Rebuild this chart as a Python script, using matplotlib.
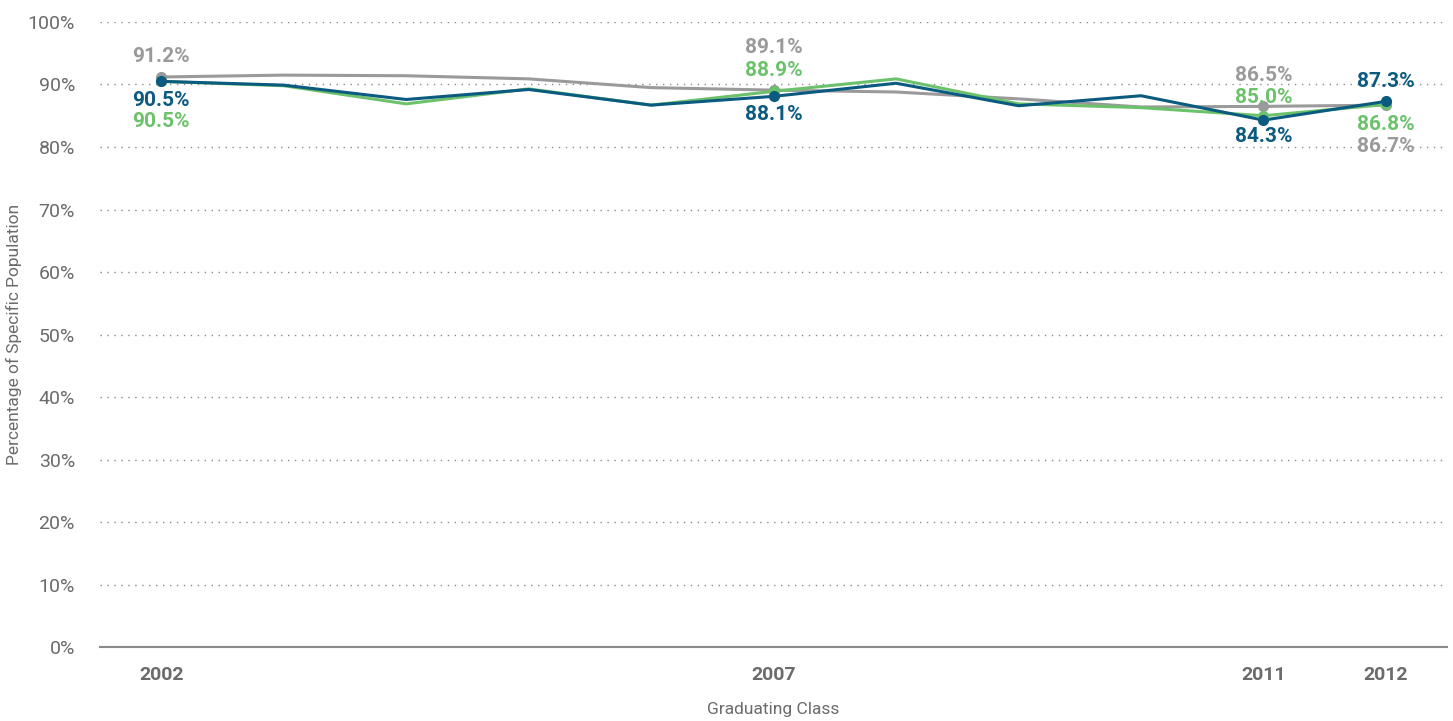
import matplotlib
matplotlib.use("Agg")
import matplotlib.pyplot as plt
import numpy as np

plt.rcParams["font.family"] = ["Roboto", "DejaVu Sans"]

# ── data ─────────────────────────────────────────────────────────────────
years = list(range(2002, 2013))
gray_vals = [91.2, 91.5, 91.4, 90.9, 89.5, 89.1, 88.8, 87.7, 86.4, 86.5, 86.7]
green_vals = [90.5, 89.8, 86.9, 89.3, 86.7, 88.9, 90.9, 86.9, 86.3, 85.0, 86.8]
blue_vals = [90.5, 89.9, 87.6, 89.2, 86.7, 88.1, 90.2, 86.6, 88.2, 84.3, 87.3]
label_years = [2002, 2007, 2011, 2012]
y_ticks = list(range(0, 101, 10))

GRAY = "#9a9a9a"
GREEN = "#6cc16b"
BLUE = "#0b5a80"
TEXT = "#6b6b6b"

# pixel offsets of the value labels at each labelled year
label_offsets = {
    "gray": [20, 43, 31, -41],
    "green": [-40, 21, 18, -20],
    "blue": [-19, -18, -16, 20],
}

series = [
    ("gray", gray_vals, GRAY),
    ("green", green_vals, GREEN),
    ("blue", blue_vals, BLUE),
]

fig = plt.figure(figsize=(14.53, 7.21), dpi=100)
ax = fig.add_axes([0.0688, 0.1026, 0.9272, 0.8669])

for name, vals, color in series:
    ax.plot(years, vals, color=color, lw=2.2, zorder=3)
    idx = [years.index(y) for y in label_years]
    ax.plot([years[i] for i in idx], [vals[i] for i in idx], "o",
            color=color, ms=7, zorder=4)
    for i, off in zip(idx, label_offsets[name]):
        ax.annotate(f"{vals[i]:.1f}%", (years[i], vals[i]),
                    xytext=(0, off * 0.72), textcoords="offset points",
                    ha="center", va="center", fontsize=15,
                    fontweight="bold", color=color, zorder=5)

ax.set_xlim(2001.5, 2012.5)
ax.set_ylim(0, 100)
ax.set_yticks(y_ticks)
ax.set_yticklabels([f"{t}%" for t in y_ticks])
ax.set_xticks(label_years)
ax.set_xticklabels([str(y) for y in label_years], fontweight="bold")

for t in y_ticks[1:]:
    ax.axhline(t, color="#8a8a8a", lw=1, ls=(0, (1, 4)), zorder=1)

for side in ["top", "right", "left"]:
    ax.spines[side].set_visible(False)
ax.spines["bottom"].set_color("#8a8a8a")
ax.spines["bottom"].set_linewidth(1.5)

ax.tick_params(axis="y", length=0, labelsize=14, labelcolor=TEXT, pad=18)
ax.tick_params(axis="x", length=0, labelsize=14, labelcolor=TEXT, pad=14)

ax.set_ylabel("Percentage of Specific Population", fontsize=12.5, color=TEXT)
ax.set_xlabel("Graduating Class", fontsize=12.5, color=TEXT)
ax.yaxis.set_label_coords(-0.058, 0.5)
ax.xaxis.set_label_coords(0.5, -0.088)

fig.savefig("out.png", dpi=100)
